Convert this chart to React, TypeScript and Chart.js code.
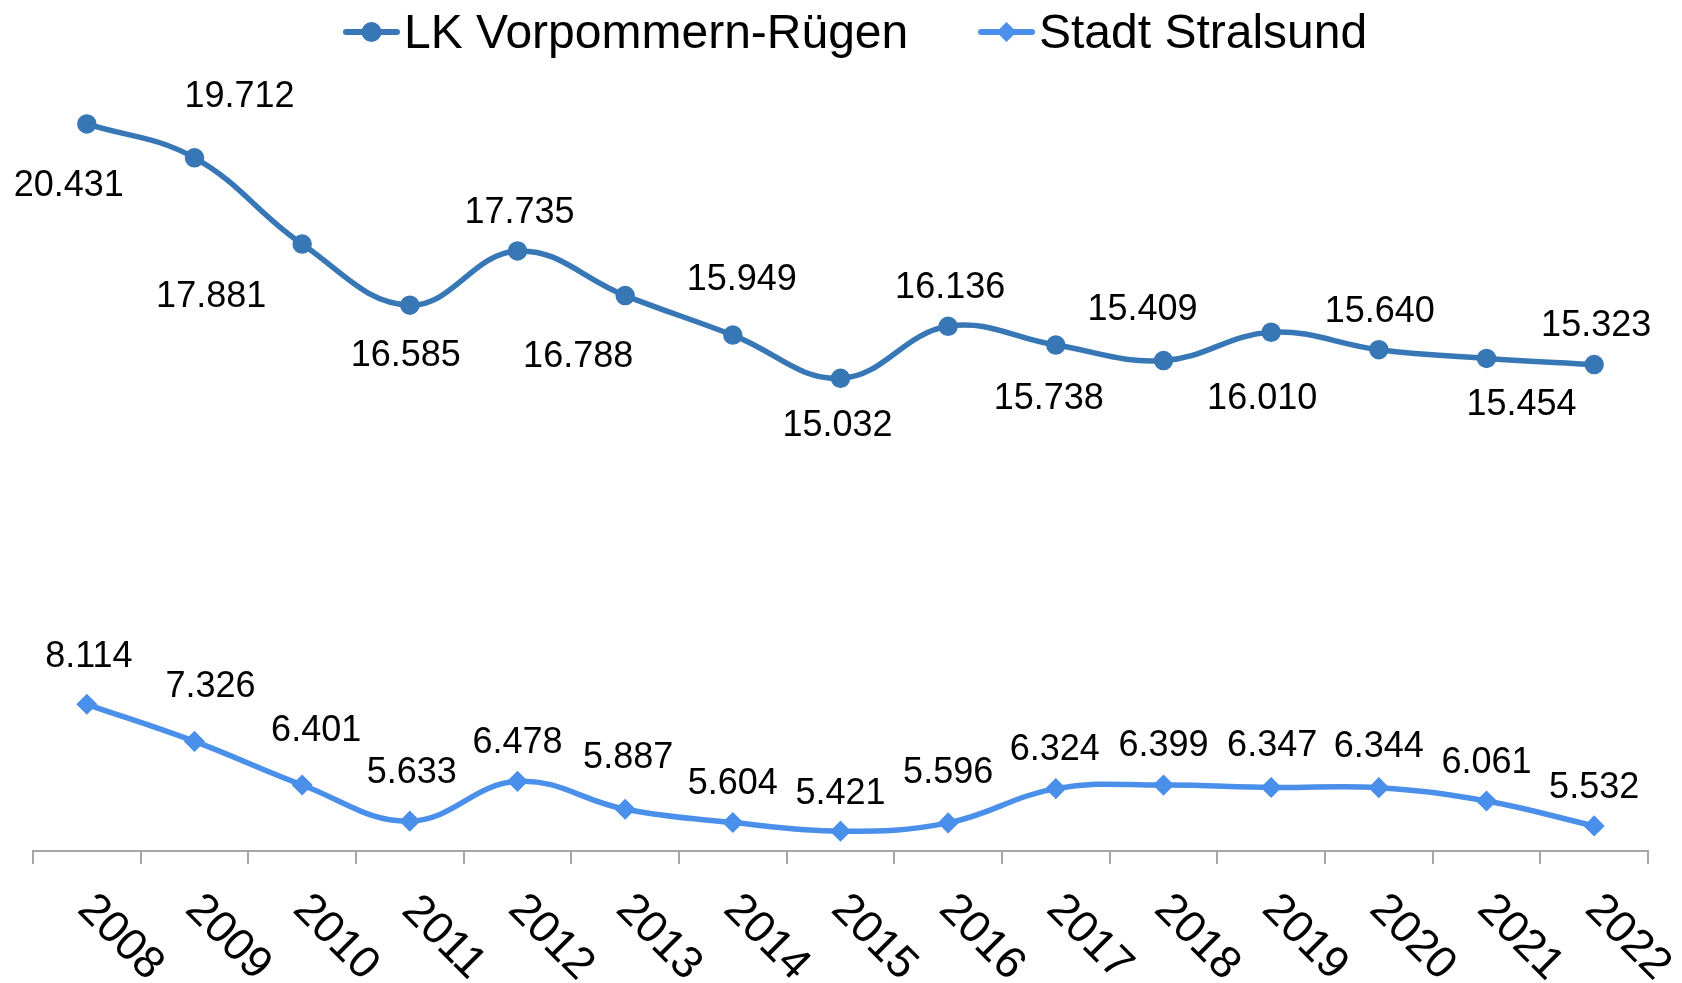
import React, { useEffect, useRef } from 'react';
import { Chart, registerables } from 'chart.js';

Chart.register(...registerables);

// ---- data ----
const years = ['2008', '2009', '2010', '2011', '2012', '2013', '2014', '2015', '2016', '2017', '2018', '2019', '2020', '2021', '2022'];
const lkValues = [20431, 19712, 17881, 16585, 17735, 16788, 15949, 15032, 16136, 15738, 15409, 16010, 15640, 15454, 15323];
const stralsundValues = [8114, 7326, 6401, 5633, 6478, 5887, 5604, 5421, 5596, 6324, 6399, 6347, 6344, 6061, 5532];
const seriesNames = ['LK Vorpommern-Rügen', 'Stadt Stralsund'];
const yMin = 5000;
const yMax = 22000;

// ---- styles ----
const COLOR_LK = '#3877B5';
const COLOR_HST = '#4A8FEA';
const FONT = '"Liberation Sans", Arial, Helvetica, sans-serif';
const LABEL_SIZE = 36;
const TICK_SIZE = 45;
const LEGEND_SIZE = 48;
const CAP = 0.716;

// data label placement (offset of label centre from point, px)
const lkLabelOffsets = [
  [-18, 59], [45, -64], [-91, 50], [-4, 48], [2, -41], [-47, 59], [9, -58], [-3, 45],
  [2, -41], [-7, 51], [-21, -53], [-9, 64], [1, -41], [35, 44], [2, -41],
];
const hstLabelOffsets = [
  [2, -50], [16, -57], [14, -57], [2, -51], [0, -41], [3, -54], [0, -41], [0, -40],
  [0, -53], [-1, -42], [0, -42], [1, -44], [0, -44], [0, -41], [0, -41],
];
const labelOffsets = [lkLabelOffsets, hstLabelOffsets];

function fmt(v: number): string {
  return Math.round(v).toString().replace(/\B(?=(\d{3})+(?!\d))/g, '.');
}

function drawMarker(ctx: CanvasRenderingContext2D, style: string, x: number, y: number, r: number, color: string) {
  ctx.fillStyle = color;
  ctx.beginPath();
  if (style === 'circle') {
    ctx.arc(x, y, r, 0, Math.PI * 2);
  } else {
    ctx.moveTo(x - r, y);
    ctx.lineTo(x, y - r);
    ctx.lineTo(x + r, y);
    ctx.lineTo(x, y + r);
    ctx.closePath();
  }
  ctx.fill();
}

const overlayPlugin = {
  id: 'overlay',
  afterDatasetsDraw(chart: any) {
    const ctx: CanvasRenderingContext2D = chart.ctx;
    ctx.save();
    // data labels
    ctx.fillStyle = '#000';
    ctx.font = `${LABEL_SIZE}px ${FONT}`;
    ctx.textAlign = 'center';
    ctx.textBaseline = 'alphabetic';
    chart.data.datasets.forEach((ds: any, di: number) => {
      const meta = chart.getDatasetMeta(di);
      meta.data.forEach((pt: any, i: number) => {
        const [dx, dy] = labelOffsets[di][i];
        ctx.fillText(fmt(ds.data[i]), pt.x + dx, pt.y + dy + (CAP * LABEL_SIZE) / 2);
      });
    });

    // rotated category labels
    const xs = chart.scales.x;
    const bottom = chart.chartArea.bottom;
    ctx.font = `${TICK_SIZE}px ${FONT}`;
    ctx.fillStyle = '#000';
    chart.data.labels.forEach((lab: string, i: number) => {
      const x = xs.getPixelForValue(i);
      ctx.save();
      ctx.translate(x + 36, bottom + 84);
      ctx.rotate(Math.PI / 4);
      ctx.textAlign = 'center';
      ctx.fillText(lab, 0, (CAP * TICK_SIZE) / 2);
      ctx.restore();
    });

    // legend
    const items = [
      { name: chart.data.datasets[0].label, color: COLOR_LK, style: 'circle', x0: 343 },
      { name: chart.data.datasets[1].label, color: COLOR_HST, style: 'diamond', x0: 978 },
    ];
    const ly = 32;
    ctx.font = `${LEGEND_SIZE}px ${FONT}`;
    ctx.textAlign = 'left';
    items.forEach((it) => {
      ctx.strokeStyle = it.color;
      ctx.lineWidth = 6;
      ctx.lineCap = 'round';
      ctx.beginPath();
      ctx.moveTo(it.x0 + 3, ly);
      ctx.lineTo(it.x0 + 54, ly);
      ctx.stroke();
      drawMarker(ctx, it.style, it.x0 + 28.5, ly, 10, it.color);
      ctx.fillStyle = '#000';
      ctx.fillText(it.name, it.x0 + 61, ly + 16);
    });
    ctx.restore();
  },
};

export default function App() {
  const ref = useRef<HTMLCanvasElement | null>(null);

  useEffect(() => {
    if (!ref.current) return;
    const chart = new Chart(ref.current, {
      type: 'line',
      data: {
        labels: years,
        datasets: [
          {
            label: seriesNames[0],
            data: lkValues,
            borderColor: COLOR_LK,
            backgroundColor: COLOR_LK,
            borderWidth: 5.5,
            tension: 0.4,
            pointStyle: 'circle',
            pointRadius: 9,
            pointBorderWidth: 1.5,
            pointBackgroundColor: COLOR_LK,
            pointBorderColor: COLOR_LK,
            clip: false,
          },
          {
            label: seriesNames[1],
            data: stralsundValues,
            borderColor: COLOR_HST,
            backgroundColor: COLOR_HST,
            borderWidth: 5.5,
            tension: 0.4,
            pointStyle: 'rectRot',
            pointRadius: 9.5,
            pointBorderWidth: 1.5,
            pointBackgroundColor: COLOR_HST,
            pointBorderColor: COLOR_HST,
            clip: false,
          },
        ],
      },
      options: {
        animation: false,
        responsive: false,
        layout: { padding: { left: 33, right: 34, top: 50, bottom: 119 } },
        plugins: {
          legend: { display: false },
          tooltip: { enabled: false },
          title: { display: false },
        },
        scales: {
          x: {
            type: 'category',
            offset: true,
            grid: {
              offset: true,
              drawOnChartArea: false,
              drawTicks: true,
              tickLength: 13,
              color: '#A6A6A6',
              lineWidth: 2,
            },
            border: { display: true, color: '#A6A6A6', width: 2 },
            ticks: { display: false },
          },
          y: {
            display: false,
            min: yMin,
            max: yMax,
          },
        },
      },
      plugins: [overlayPlugin],
    });
    return () => chart.destroy();
  }, []);

  return (
    <canvas
      ref={ref}
      width={1682}
      height={983}
      style={{ position: 'absolute', left: 0, top: 0, width: '1682px', height: '983px' }}
    />
  );
}
